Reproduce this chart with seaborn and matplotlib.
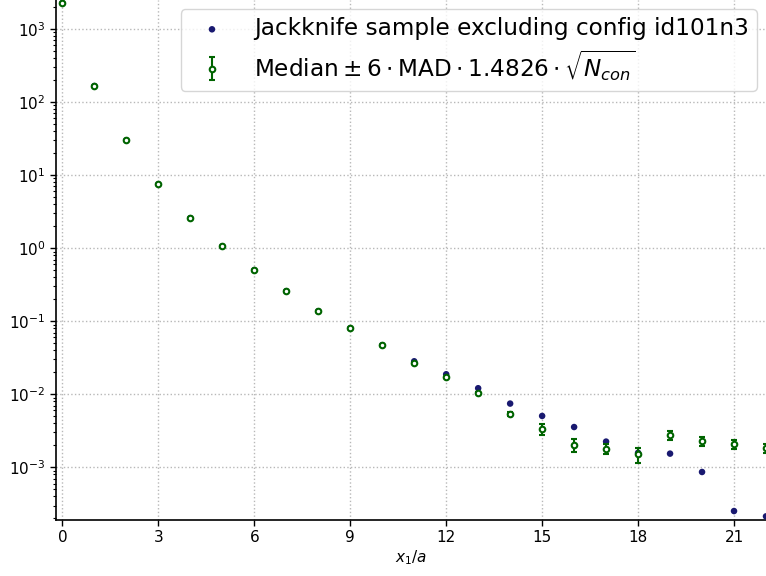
import numpy as np
import pandas as pd
import seaborn as sns
import matplotlib
matplotlib.use("Agg")
import matplotlib.pyplot as plt

x_vals = list(range(23))

# jackknife sample excluding config id101n3
jack = [2270, 166, 30.0, 7.5, 2.58, 1.06, 0.50, 0.258, 0.137, 0.080, 0.047,
        0.0283, 0.0188, 0.0121, 0.00746, 0.00505, 0.00356, 0.00225, 0.00158,
        0.00154, 0.000863, 0.000252, 0.000213]

# median and error (6 * MAD * 1.4826 * sqrt(N_con))
median = [2270, 166, 30.0, 7.5, 2.58, 1.06, 0.50, 0.258, 0.137, 0.080, 0.047,
          0.0266, 0.0171, 0.0103, 0.00537, 0.00334, 0.00205, 0.00180, 0.00151,
          0.00275, 0.00226, 0.00210, 0.00182]
err = [20, 1.5, 0.3, 0.08, 0.03, 0.012, 0.006, 0.003, 0.002, 0.0012, 0.0008,
       0.0006, 0.0004, 0.0003, 0.00032, 0.00053, 0.00043, 0.00028, 0.00035,
       0.00036, 0.00032, 0.00030, 0.00026]

df = pd.DataFrame({"x": x_vals, "jack": jack, "median": median, "err": err})

sns.set_style("ticks")
plt.rcParams.update({"text.color": "black", "axes.labelcolor": "black",
                     "xtick.color": "black", "ytick.color": "black",
                     "axes.edgecolor": "black"})

fig, ax = plt.subplots(figsize=(7.66, 5.76), dpi=100)
fig.subplots_adjust(left=56 / 766, right=1.0, top=1.0, bottom=1 - 520 / 576)

sns.scatterplot(data=df, x="x", y="jack", ax=ax, color="#191970", s=22,
                edgecolor="none", label="Jackknife sample excluding config id101n3",
                zorder=3)
ax.errorbar(df["x"], df["median"], yerr=df["err"], fmt="o", color="darkgreen",
            markerfacecolor="white", markeredgecolor="darkgreen", markersize=4,
            markeredgewidth=1.5, capsize=2.5, elinewidth=1.5, capthick=1.5,
            label=r"$\mathrm{Median} \pm 6 \cdot \mathrm{MAD} \cdot 1.4826 \cdot \sqrt{N_{con}}$",
            zorder=4)

ax.set_yscale("log")
ax.set_ylim(1.9e-4, 2500)
ax.set_xlim(-0.2, 22.0)
ax.set_xticks(range(0, 22, 3))
ax.set_xlabel("$x_1/a$", fontsize=11, labelpad=2)
ax.set_ylabel("")
ax.tick_params(labelsize=11, width=1, length=4)
ax.tick_params(axis="y", which="minor", left=True, length=2.5, width=0.8)
ax.grid(True, which="major", linestyle=":", color="#b8b8b8", linewidth=1.0)
sns.despine(ax=ax)
for sp in ("left", "bottom"):
    ax.spines[sp].set_linewidth(1.2)
ax.legend(loc="upper right", fontsize=16.7, handletextpad=0.8,
          borderaxespad=0.4, labelspacing=0.35, borderpad=0.35)

fig.savefig("out.png", dpi=100)
